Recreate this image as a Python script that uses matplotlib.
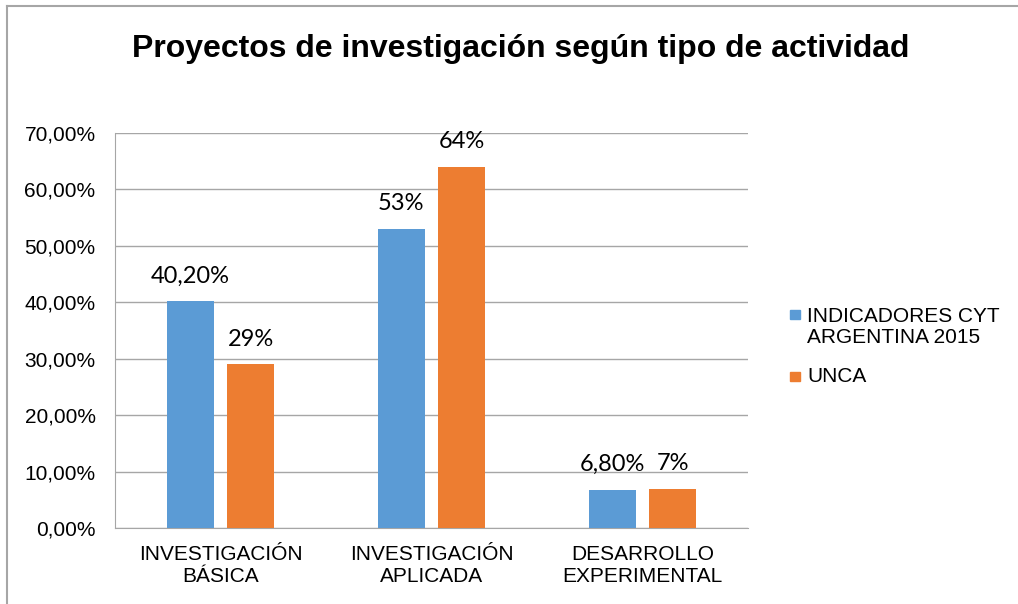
import numpy as np
import matplotlib.pyplot as plt
from matplotlib.lines import Line2D
from matplotlib.patches import Rectangle

# Datos
categorias = ['INVESTIGACIÓN\nBÁSICA', 'INVESTIGACIÓN\nAPLICADA', 'DESARROLLO\nEXPERIMENTAL']
indicadores = [40.2, 53.0, 6.8]
unca = [29.0, 64.0, 7.0]
etiquetas_ind = ['40,20%', '53%', '6,80%']
etiquetas_unca = ['29%', '64%', '7%']
ticks_y = [0, 10, 20, 30, 40, 50, 60, 70]
serie_ind = 'INDICADORES CYT\nARGENTINA 2015'
serie_unca = 'UNCA'

azul = '#5B9BD5'
naranja = '#ED7D31'
gris = '#A6A6A6'

plt.rcParams['font.family'] = ['Liberation Sans', 'DejaVu Sans']

fig = plt.figure(figsize=(10.18, 6.04), dpi=100)
ax = fig.add_axes([0.113, 0.1258, 0.6218, 0.654])

x = np.arange(len(categorias))
ancho = 0.223
desp = 0.143

b1 = ax.bar(x - desp, indicadores, ancho, color=azul, zorder=3)
b2 = ax.bar(x + desp, unca, ancho, color=naranja, zorder=3)

# etiquetas de valor sobre las barras
for barras, textos in ((b1, etiquetas_ind), (b2, etiquetas_unca)):
    for r, t in zip(barras, textos):
        ax.annotate(t, (r.get_x() + r.get_width() / 2, r.get_height()),
                    xytext=(0, 13.5), textcoords='offset points',
                    ha='center', va='baseline', fontsize=17,
                    family=['Lato', 'DejaVu Sans'])

ax.set_xlim(-0.5, 2.5)
ax.set_ylim(0, 70)
ax.set_yticks(ticks_y)
ax.set_yticklabels([f'{v:.2f}%'.replace('.', ',') for v in ticks_y])
ax.set_xticks(x)
ax.set_xticklabels(categorias, fontsize=15, linespacing=1.2)
ax.tick_params(axis='y', length=0, pad=14, labelsize=15)
ax.tick_params(axis='x', length=0, pad=12)

ax.yaxis.grid(True, color=gris, linewidth=1, zorder=0)
for s in ['top', 'right']:
    ax.spines[s].set_visible(False)
ax.spines['left'].set_color(gris)
ax.spines['bottom'].set_color(gris)

fig.text(0.511, 0.9056, 'Proyectos de investigación según tipo de actividad',
         ha='center', va='baseline', fontsize=23, fontweight='bold')

# leyenda: cuadros de color y nombres de las series (línea base de la última línea)
W, H = fig.get_size_inches() * fig.dpi
for color, nombre, y_cuadro, y_base in ((azul, serie_ind, 310, 343),
                                        (naranja, serie_unca, 372, 382)):
    fig.add_artist(Rectangle((790 / W, 1 - (y_cuadro + 8.5) / H), 9.5 / W, 8.5 / H,
                             transform=fig.transFigure, color=color))
    fig.text(807 / W, 1 - y_base / H, nombre, ha='left', va='baseline',
             fontsize=15, linespacing=1.15)

# borde del gráfico
fig.add_artist(Line2D([0.007, 0.007], [0, 0.99], color=gris, linewidth=1.5))
fig.add_artist(Line2D([0.007, 1], [0.99, 0.99], color=gris, linewidth=1.5))

plt.savefig('out.png', dpi=100)
